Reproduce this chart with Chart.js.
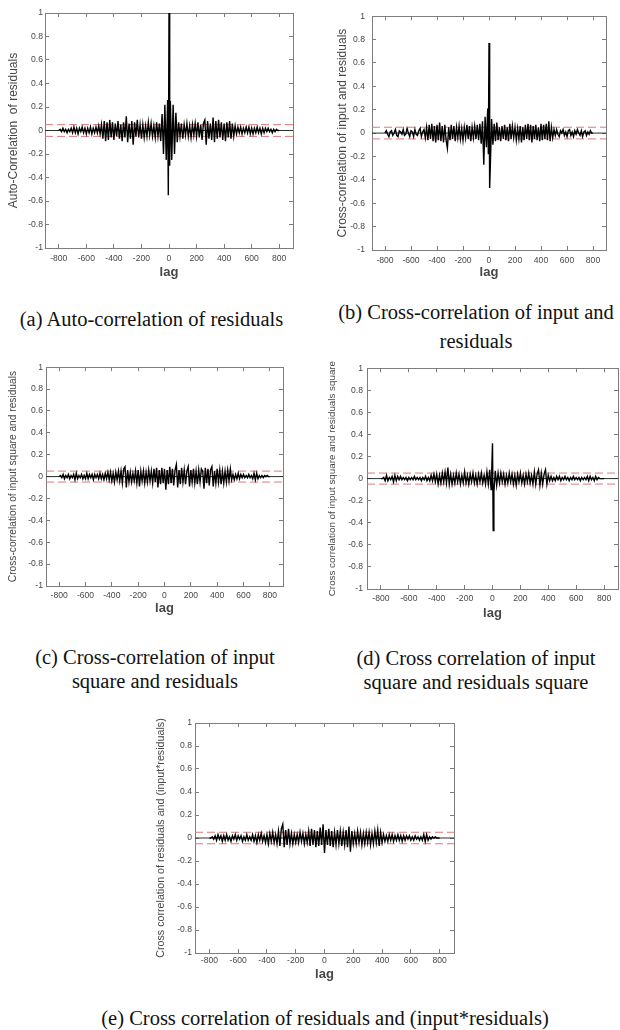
<!DOCTYPE html>
<html>
  <head>
    <title>Residual correlation tests</title>
    <script src="https://cdn.jsdelivr.net/npm/chart.js@4.4.0/dist/chart.umd.min.js"></script>
    <style>
      body { margin: 0; background: #fff; }
      #page { position: relative; width: 620px; height: 1030px; overflow: hidden; }
      .panel { position: absolute; }
      .caption {
        position: absolute;
        font-family: "Liberation Serif", "Times New Roman", serif;
        font-size: 20.5px;
        line-height: 24px;
        color: #111;
        text-align: center;
        white-space: nowrap;
      }
    </style>
  </head>

  <body>
    <div id="page">
      <div class="panel" style="left:0;top:0"><canvas id="chartA" width="300" height="290"></canvas></div>
      <div class="panel" style="left:320px;top:0"><canvas id="chartB" width="295" height="290"></canvas></div>
      <div class="panel" style="left:0;top:355px"><canvas id="chartC" width="295" height="275"></canvas></div>
      <div class="panel" style="left:320px;top:355px"><canvas id="chartD" width="300" height="275"></canvas></div>
      <div class="panel" style="left:145px;top:710px"><canvas id="chartE" width="320" height="285"></canvas></div>

      <div class="caption" style="left:0;width:303px;top:307px">(a) Auto-correlation of residuals</div>
      <div class="caption" style="left:326px;width:300px;top:300px">(b) Cross-correlation of input and</div>
      <div class="caption" style="left:326px;width:300px;top:329px">residuals</div>
      <div class="caption" style="left:5px;width:300px;top:645px">(c) Cross-correlation of input<br>square and residuals</div>
      <div class="caption" style="left:326px;width:300px;top:646px">(d) Cross correlation of input<br>square and residuals square</div>
      <div class="caption" style="left:25px;width:600px;top:1006px">(e) Cross correlation of residuals and (input*residuals)</div>
    </div>

    <script>
      // lag axis: every series below starts at lag -800 and steps by 10
      const lagStart = -800;
      const lagStep = 10;
      const xTicks = [-800, -600, -400, -200, 0, 200, 400, 600, 800];
      const confBound = 0.05;

      // (a) auto-correlation of residuals
      const acfResid = [
        0.00, 0.01, -0.01, 0.02, -0.01, 0.01, -0.02, 0.01, -0.01, 0.02,
        -0.02, 0.03, -0.02, 0.02, -0.03, 0.02, -0.01, 0.03, -0.02, 0.02,
        -0.03, 0.02, -0.02, 0.03, -0.03, 0.02, -0.02, 0.03, -0.02, 0.04,
        -0.03, 0.05, -0.07, 0.08, -0.09, 0.07, -0.08, 0.09, -0.06, 0.07,
        -0.08, 0.06, -0.05, 0.08, -0.07, 0.05, -0.09, 0.07, -0.06, 0.12,
        -0.10, 0.06, -0.07, 0.08, -0.12, 0.07, -0.05, 0.09, -0.06, 0.05,
        -0.07, 0.05, -0.06, 0.04, -0.05, 0.07, -0.04, 0.06, -0.05, 0.04,
        -0.06, 0.07, -0.05, 0.06, -0.09, 0.14, -0.20, 0.22, -0.25, 0.26,
        1.00,
        0.25, -0.25, 0.22, -0.20, 0.15, -0.10, 0.07, -0.05, 0.06, -0.07,
        0.05, -0.04, 0.06, -0.05, 0.04, -0.06, 0.05, -0.04, 0.06, -0.05,
        0.07, -0.06, 0.05, -0.08, 0.06, 0.09, -0.12, 0.08, -0.07, 0.06,
        -0.08, 0.11, -0.10, 0.08, -0.07, 0.09, -0.06, 0.07, -0.08, 0.06,
        -0.09, 0.07, -0.06, 0.08, -0.07, 0.06, -0.05, 0.04, -0.03, 0.03,
        -0.02, 0.03, -0.03, 0.02, -0.02, 0.03, -0.02, 0.03, -0.03, 0.02,
        -0.03, 0.02, -0.02, 0.03, -0.02, 0.02, -0.03, 0.02, -0.02, 0.02,
        -0.01, 0.02, -0.01, 0.01, -0.02, 0.01, -0.01, 0.01, 0.00, 0.00
      ];
      const acfCentreLag = [-5, 5];
      const acfCentreVal = [-0.55, -0.30];

      // (b) cross-correlation of input and residuals
      const ccfInput = [
        0.00, 0.02, -0.01, -0.03, 0.01, 0.02, -0.02, 0.00, 0.03, -0.02,
        -0.03, 0.02, 0.01, -0.01, 0.03, -0.02, -0.01, 0.04, 0.00, -0.03,
        0.02, 0.01, -0.03, 0.03, -0.01, -0.02, 0.02, 0.04, -0.03, 0.01,
        0.03, -0.04, 0.05, -0.06, 0.07, -0.05, 0.08, -0.07, 0.06, -0.08,
        0.07, -0.06, 0.09, -0.07, 0.06, -0.08, 0.07, -0.06, -0.13, 0.05,
        -0.06, 0.07, -0.05, 0.06, -0.07, 0.05, -0.04, 0.06, -0.05, 0.04,
        -0.06, 0.05, -0.04, 0.07, -0.05, 0.06, -0.07, 0.05, -0.04, 0.06,
        -0.05, 0.07, -0.06, 0.08, -0.09, 0.10, -0.27, 0.14, -0.12, 0.21,
        0.77,
        -0.29, 0.12, -0.10, 0.08, -0.07, 0.09, -0.06, 0.05, -0.07, 0.06,
        -0.05, 0.07, -0.06, 0.05, -0.07, 0.08, -0.05, 0.06, -0.04, 0.05,
        -0.06, 0.04, -0.05, 0.06, -0.08, 0.05, -0.06, 0.07, -0.05, 0.08,
        -0.06, 0.07, -0.08, 0.06, -0.05, 0.07, -0.06, 0.05, -0.07, 0.08,
        -0.06, 0.07, -0.05, 0.08, -0.06, 0.10, -0.07, 0.05, -0.04, 0.03,
        -0.02, 0.03, -0.01, -0.03, 0.02, 0.00, 0.03, -0.02, 0.01, -0.03,
        0.02, 0.03, -0.02, 0.01, -0.03, 0.02, -0.01, 0.03, 0.00, -0.02,
        0.02, -0.03, 0.01, 0.02, -0.02, 0.01, -0.01, 0.02, 0.00, 0.00
      ];
      const ccfInputCentreLag = [-5, 5];
      const ccfInputCentreVal = [-0.18, -0.47];

      // (c) cross-correlation of input square and residuals
      const ccfInputSq = [
        0.00, 0.01, -0.01, 0.02, -0.02, 0.01, -0.01, 0.02, -0.02, 0.01,
        -0.01, 0.02, -0.03, 0.03, -0.02, 0.01, -0.01, 0.02, -0.02, 0.01,
        -0.02, 0.03, -0.02, 0.02, -0.01, 0.02, -0.03, 0.02, -0.01, 0.02,
        -0.02, 0.03, -0.02, 0.02, -0.03, 0.03, -0.02, 0.04, -0.03, 0.04,
        -0.04, 0.03, -0.05, 0.04, -0.03, 0.05, -0.04, 0.05, -0.06, 0.07,
        0.09, -0.10, 0.06, -0.05, 0.04, -0.05, 0.03, -0.04, 0.05, -0.06,
        0.06, -0.09, 0.05, -0.04, 0.05, -0.06, 0.04, -0.05, 0.06, -0.04,
        0.05, -0.06, 0.07, -0.05, 0.08, -0.10, 0.06, -0.07, 0.08, -0.06,
        0.07,
        -0.12, 0.06, -0.07, 0.09, -0.06, 0.07, -0.08, 0.06, 0.11, -0.10,
        0.06, -0.07, 0.08, -0.05, 0.06, -0.07, 0.05, 0.09, -0.09, 0.06,
        -0.05, 0.07, -0.06, 0.05, -0.07, 0.06, -0.05, 0.07, 0.05, -0.11,
        0.08, -0.06, 0.07, -0.08, 0.06, 0.09, -0.09, 0.05, -0.06, 0.07,
        -0.05, 0.06, -0.07, 0.05, -0.06, 0.05, -0.05, 0.06, -0.04, 0.07,
        -0.03, 0.02, -0.03, 0.02, -0.02, 0.03, -0.02, 0.02, -0.01, 0.02,
        -0.01, 0.01, -0.01, 0.02, -0.01, 0.01, -0.02, 0.03, -0.03, 0.03,
        -0.02, 0.01, -0.01, 0.01, -0.01, 0.01, 0.00, 0.01, 0.00, 0.00
      ];

      // (d) cross-correlation of input square and residuals square
      const ccfInputSqResidSq = [
        0.00, 0.00, 0.01, -0.02, 0.03, -0.02, 0.01, -0.01, 0.02, -0.03,
        0.03, -0.02, 0.02, -0.01, 0.02, -0.01, 0.01, -0.01, 0.01, -0.02,
        0.01, -0.01, 0.01, -0.01, 0.02, -0.01, 0.01, -0.01, 0.01, -0.02,
        0.01, -0.01, 0.02, -0.02, 0.01, -0.02, 0.03, -0.02, 0.04, -0.03,
        0.04, -0.05, 0.03, -0.04, 0.05, -0.03, 0.06, -0.04, 0.10, -0.05,
        0.04, -0.05, 0.03, -0.04, 0.05, -0.03, 0.04, -0.05, 0.03, -0.04,
        0.06, -0.04, 0.03, -0.05, 0.04, -0.03, 0.05, -0.04, 0.03, -0.05,
        0.04, -0.03, 0.05, -0.04, 0.03, -0.05, 0.06, -0.05, 0.08, -0.10,
        0.32,
        -0.12, 0.07, -0.06, 0.05, -0.04, 0.05, -0.03, 0.04, -0.05, 0.03,
        -0.04, 0.05, -0.03, 0.04, -0.05, 0.03, -0.06, 0.04, -0.03, 0.05,
        -0.04, 0.03, -0.05, 0.04, -0.03, 0.05, -0.04, 0.03, -0.05, 0.06,
        -0.05, 0.04, 0.08, -0.06, 0.05, -0.05, 0.04, 0.08, -0.05, 0.03,
        -0.02, 0.02, -0.02, 0.01, -0.02, 0.02, -0.01, 0.02, -0.02, 0.01,
        -0.01, 0.02, -0.01, 0.01, -0.02, 0.01, -0.01, 0.02, -0.01, 0.01,
        -0.01, 0.01, -0.02, 0.01, -0.01, 0.01, -0.01, 0.02, -0.02, 0.02,
        -0.01, 0.01, -0.02, 0.02, -0.01, 0.01, 0.00, 0.00, 0.00, 0.00
      ];
      const ccfSqCentreLag = [-5, 5];
      const ccfSqCentreVal = [0.10, -0.47];

      // (e) cross-correlation of residuals and (input*residuals)
      const ccfResidProd = [
        0.00, 0.00, 0.01, -0.01, 0.02, -0.02, 0.03, -0.01, 0.02, -0.03,
        0.02, -0.02, 0.03, -0.02, 0.01, -0.03, 0.02, -0.01, 0.03, -0.02,
        0.02, -0.01, 0.02, -0.03, 0.01, -0.02, 0.03, -0.02, 0.01, -0.02,
        0.03, -0.03, 0.02, -0.04, 0.03, -0.02, 0.04, -0.03, 0.02, -0.04,
        0.03, -0.05, 0.04, -0.03, 0.05, -0.04, 0.03, -0.05, 0.06, -0.07,
        0.08, 0.12, -0.08, 0.07, -0.06, 0.08, -0.05, 0.04, -0.05, 0.03,
        -0.04, 0.03, -0.04, 0.05, -0.03, 0.04, -0.05, 0.03, -0.04, 0.06,
        -0.07, 0.08, -0.06, 0.07, -0.08, 0.06, -0.07, 0.09, -0.06, 0.12,
        -0.13,
        0.07, -0.06, 0.08, -0.07, 0.06, -0.08, 0.05, -0.06, 0.07, -0.05,
        0.06, -0.07, 0.05, -0.06, 0.07, -0.08, 0.10, -0.12, 0.06, -0.05,
        0.04, -0.05, 0.06, -0.04, 0.05, -0.06, 0.04, -0.05, 0.05, -0.04,
        0.05, -0.06, 0.04, -0.05, 0.06, -0.04, 0.07, -0.07, 0.05, -0.04,
        0.03, -0.03, 0.02, -0.03, 0.03, -0.02, 0.03, -0.03, 0.02, -0.02,
        0.03, -0.02, 0.02, -0.03, 0.02, -0.02, 0.02, -0.01, 0.02, -0.02,
        0.01, -0.02, 0.02, -0.01, 0.01, -0.02, 0.01, -0.02, 0.03, -0.03,
        0.03, -0.02, 0.01, -0.01, 0.01, 0.00, 0.01, 0.00, 0.00, 0.00
      ];

      const TEXT = '#474747';
      const AXIS = '#7d7d7d';
      const RED = '#e07878';

      // use the condensed face if it is there, otherwise shrink the regular one
      const narrowOk = (() => {
        const c = document.createElement('canvas').getContext('2d');
        const t = 'Cross correlation -0.8';
        c.font = '30px monospace';
        const w = c.measureText(t).width;
        c.font = '30px "Liberation Sans Narrow", monospace';
        return c.measureText(t).width !== w;
      })();
      const NARROW = narrowOk ? '"Liberation Sans Narrow", "Liberation Sans", sans-serif' : '"Liberation Sans", sans-serif';
      const REGULAR = '"Liberation Sans", Arial, sans-serif';
      const nSize = s => (narrowOk ? s : Math.round(s * 8.2) / 10);

      function lagSeries(values, extraLags, extraValues) {
        const pts = values.map((v, i) => ({ x: lagStart + i * lagStep, y: v }));
        (extraLags || []).forEach((l, i) => pts.push({ x: l, y: extraValues[i] }));
        return pts.sort((p, q) => p.x - q.x);
      }

      function flat(y) {
        return [{ x: -900, y: y }, { x: 900, y: y }];
      }

      const inward = { display: true, drawOnChartArea: false, drawTicks: true, tickLength: -4, color: AXIS, tickColor: AXIS };

      function corrChart(id, series, p) {
        const tickFont = { family: NARROW, size: nSize(10.5) };
        return new Chart(document.getElementById(id), {
          type: 'line',
          data: {
            datasets: [
              { data: series, borderColor: '#000', borderWidth: 1.4, xAxisID: 'x', yAxisID: 'y' },
              { data: flat(confBound), borderColor: RED, borderWidth: 1, borderDash: [8, 4], xAxisID: 'x', yAxisID: 'y' },
              { data: flat(-confBound), borderColor: RED, borderWidth: 1, borderDash: [8, 4], xAxisID: 'x', yAxisID: 'y' },
              { data: flat(0), borderColor: '#27302a', borderWidth: 1, xAxisID: 'x', yAxisID: 'y' },
            ],
          },
          options: {
            responsive: false,
            animation: false,
            layout: { padding: { top: p.padTop, right: p.padRight, left: 0, bottom: 0 } },
            elements: { point: { radius: 0 }, line: { tension: 0 } },
            plugins: { legend: { display: false }, tooltip: { enabled: false } },
            scales: {
              x: {
                type: 'linear',
                position: 'bottom',
                min: -900,
                max: 900,
                afterBuildTicks: s => { s.ticks = xTicks.map(v => ({ value: v })); },
                afterFit: s => { s.height = p.xHeight; },
                grid: inward,
                border: { color: AXIS, width: 1 },
                ticks: { autoSkip: false, maxRotation: 0, padding: p.xTickPad, color: TEXT, font: tickFont, callback: v => String(v) },
                title: {
                  display: true,
                  text: 'lag',
                  color: TEXT,
                  font: { family: REGULAR, size: 13, weight: 'bold' },
                  padding: { top: 0, bottom: p.lagPad },
                },
              },
              x2: {
                type: 'linear',
                position: 'top',
                min: -900,
                max: 900,
                afterBuildTicks: s => { s.ticks = xTicks.map(v => ({ value: v })); },
                afterFit: s => { s.height = 0; },
                grid: inward,
                border: { color: AXIS, width: 1 },
                ticks: { display: false },
              },
              y: {
                position: 'left',
                min: -1,
                max: 1,
                afterFit: s => { s.width = p.yWidth; },
                grid: inward,
                border: { color: AXIS, width: 1 },
                ticks: {
                  stepSize: 0.2,
                  padding: p.yTickPad,
                  color: TEXT,
                  font: tickFont,
                  callback: v => String(Math.round(v * 10) / 10),
                },
                title: {
                  display: true,
                  text: p.title,
                  color: TEXT,
                  font: p.titleFont,
                  padding: { top: p.titlePad, bottom: 0 },
                },
              },
              y2: {
                position: 'right',
                min: -1,
                max: 1,
                afterFit: s => { s.width = 0; },
                grid: inward,
                border: { color: AXIS, width: 1 },
                ticks: { display: false, stepSize: 0.2 },
              },
            },
          },
        });
      }

      corrChart('chartA', lagSeries(acfResid, acfCentreLag, acfCentreVal), {
        title: 'Auto-Correlation  of residuals',
        titleFont: { family: REGULAR, size: 12 },
        titlePad: 6, yWidth: 45, xHeight: 42, padTop: 13, padRight: 7,
        xTickPad: 9.5, yTickPad: 6, lagPad: 10,
      });
      corrChart('chartB', lagSeries(ccfInput, ccfInputCentreLag, ccfInputCentreVal), {
        title: 'Cross-correlation of input and residuals',
        titleFont: { family: REGULAR, size: 12 },
        titlePad: 15, yWidth: 52, xHeight: 40, padTop: 15, padRight: 9,
        xTickPad: 9.5, yTickPad: 11, lagPad: 10,
      });
      corrChart('chartC', lagSeries(ccfInputSq), {
        title: 'Cross-correlation of input square and residuals',
        titleFont: { family: NARROW, size: nSize(12.5) },
        titlePad: 7.5, yWidth: 46, xHeight: 44, padTop: 12, padRight: 12,
        xTickPad: 8.5, yTickPad: 7, lagPad: 14,
      });
      corrChart('chartD', lagSeries(ccfInputSqResidSq, ccfSqCentreLag, ccfSqCentreVal), {
        title: 'Cross correlation of input square and residuals square',
        titleFont: { family: NARROW, size: nSize(12) },
        titlePad: 6, yWidth: 47, xHeight: 41, padTop: 13, padRight: 2,
        xTickPad: 8.5, yTickPad: 8, lagPad: 9,
      });
      corrChart('chartE', lagSeries(ccfResidProd), {
        title: 'Cross correlation of residuals and (input*residuals)',
        titleFont: { family: NARROW, size: nSize(13) },
        titlePad: 10, yWidth: 50, xHeight: 42, padTop: 13, padRight: 11,
        xTickPad: 6.5, yTickPad: 7, lagPad: 13,
      });
    </script>
  </body>
</html>
